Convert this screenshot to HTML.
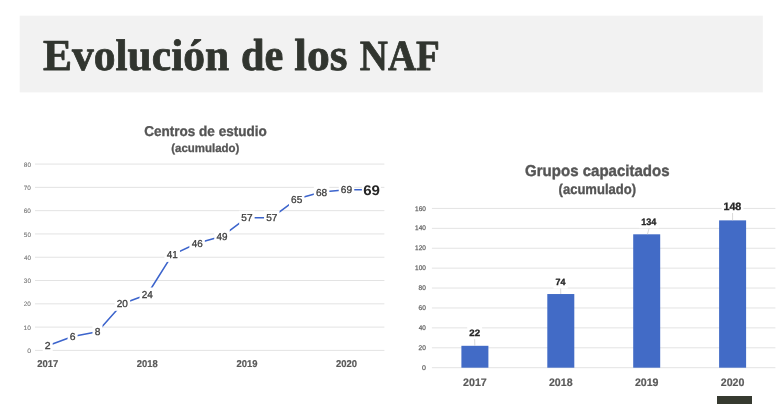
<!DOCTYPE html><html><head><meta charset="utf-8"><style>
html,body{margin:0;padding:0;background:#fff;width:781px;height:414px;overflow:hidden}
svg{position:absolute;left:0;top:0;text-rendering:geometricPrecision;will-change:transform}
</style></head><body>
<svg width="781" height="414" viewBox="0 0 781 414">

<rect x="19.7" y="15.7" width="743.1" height="76.7" fill="#f2f2f2"/>
<text transform="translate(42.96,70.40) scale(0.9851,1)" font-family="'Liberation Serif', serif" font-weight="bold" font-size="44.200" fill="#31352f" stroke="#31352f" stroke-width="0.8" stroke-linejoin="round">Evolución</text>
<text transform="translate(240.89,70.40) scale(0.9423,1)" font-family="'Liberation Serif', serif" font-weight="bold" font-size="44.900" fill="#31352f" stroke="#31352f" stroke-width="0.8" stroke-linejoin="round">de</text>
<text transform="translate(294.31,70.40) scale(1.0154,1)" font-family="'Liberation Serif', serif" font-weight="bold" font-size="44.900" fill="#31352f" stroke="#31352f" stroke-width="0.8" stroke-linejoin="round">los</text>
<text transform="translate(359.86,70.40) scale(0.9041,1)" font-family="'Liberation Serif', serif" font-weight="bold" font-size="43.000" fill="#31352f" stroke="#31352f" stroke-width="0.8" stroke-linejoin="round">NAF</text>
<line x1="35" x2="384.4" y1="350.40" y2="350.40" stroke="#e3e3e3" stroke-width="1"/>
<text transform="translate(27.13,353.00) scale(1.0951,1)" font-family="'Liberation Sans', sans-serif" font-weight="normal" font-size="6.304" fill="#777777" stroke="#777777" stroke-width="0.1">0</text>
<line x1="35" x2="384.4" y1="327.11" y2="327.11" stroke="#e3e3e3" stroke-width="1"/>
<text transform="translate(23.60,329.71) scale(1.0501,1)" font-family="'Liberation Sans', sans-serif" font-weight="normal" font-size="6.304" fill="#777777" stroke="#777777" stroke-width="0.1">10</text>
<line x1="35" x2="384.4" y1="303.82" y2="303.82" stroke="#e3e3e3" stroke-width="1"/>
<text transform="translate(23.78,306.42) scale(1.0235,1)" font-family="'Liberation Sans', sans-serif" font-weight="normal" font-size="6.304" fill="#777777" stroke="#777777" stroke-width="0.1">20</text>
<line x1="35" x2="384.4" y1="280.53" y2="280.53" stroke="#e3e3e3" stroke-width="1"/>
<text transform="translate(23.86,283.13) scale(1.0114,1)" font-family="'Liberation Sans', sans-serif" font-weight="normal" font-size="6.304" fill="#777777" stroke="#777777" stroke-width="0.1">30</text>
<line x1="35" x2="384.4" y1="257.24" y2="257.24" stroke="#e3e3e3" stroke-width="1"/>
<text transform="translate(23.96,259.84) scale(0.9969,1)" font-family="'Liberation Sans', sans-serif" font-weight="normal" font-size="6.304" fill="#777777" stroke="#777777" stroke-width="0.1">40</text>
<line x1="35" x2="384.4" y1="233.95" y2="233.95" stroke="#e3e3e3" stroke-width="1"/>
<text transform="translate(23.84,236.55) scale(1.0134,1)" font-family="'Liberation Sans', sans-serif" font-weight="normal" font-size="6.304" fill="#777777" stroke="#777777" stroke-width="0.1">50</text>
<line x1="35" x2="384.4" y1="210.66" y2="210.66" stroke="#e3e3e3" stroke-width="1"/>
<text transform="translate(23.77,213.26) scale(1.0240,1)" font-family="'Liberation Sans', sans-serif" font-weight="normal" font-size="6.304" fill="#777777" stroke="#777777" stroke-width="0.1">60</text>
<line x1="35" x2="384.4" y1="187.37" y2="187.37" stroke="#e3e3e3" stroke-width="1"/>
<text transform="translate(23.77,189.97) scale(1.0245,1)" font-family="'Liberation Sans', sans-serif" font-weight="normal" font-size="6.304" fill="#777777" stroke="#777777" stroke-width="0.1">70</text>
<line x1="35" x2="384.4" y1="164.08" y2="164.08" stroke="#e3e3e3" stroke-width="1"/>
<text transform="translate(23.82,166.68) scale(1.0167,1)" font-family="'Liberation Sans', sans-serif" font-weight="normal" font-size="6.304" fill="#777777" stroke="#777777" stroke-width="0.1">80</text>
<text transform="translate(144.24,136.10) scale(0.9502,1)" font-family="'Liberation Sans', sans-serif" font-weight="bold" font-size="14.244" fill="#555555" stroke="#555555" stroke-width="0.35">Centros de estudio</text>
<text transform="translate(171.23,151.70) scale(0.9714,1)" font-family="'Liberation Sans', sans-serif" font-weight="bold" font-size="11.800" fill="#555555" stroke="#555555" stroke-width="0.3">(acumulado)</text>
<text transform="translate(37.22,366.75) scale(0.9569,1)" font-family="'Liberation Sans', sans-serif" font-weight="bold" font-size="9.885" fill="#595959" stroke="#595959" stroke-width="0.2">2017</text>
<text transform="translate(136.82,366.75) scale(0.9511,1)" font-family="'Liberation Sans', sans-serif" font-weight="bold" font-size="9.885" fill="#595959" stroke="#595959" stroke-width="0.2">2018</text>
<text transform="translate(236.42,366.75) scale(0.9539,1)" font-family="'Liberation Sans', sans-serif" font-weight="bold" font-size="9.885" fill="#595959" stroke="#595959" stroke-width="0.2">2019</text>
<text transform="translate(336.02,366.75) scale(0.9556,1)" font-family="'Liberation Sans', sans-serif" font-weight="bold" font-size="9.885" fill="#595959" stroke="#595959" stroke-width="0.2">2020</text>
<polyline points="47.70,345.74 72.60,336.43 97.50,331.77 122.40,303.82 147.30,294.50 172.20,254.91 197.10,243.27 222.00,236.28 246.90,217.65 271.80,217.65 296.70,199.01 321.60,192.03 346.50,189.70 371.40,189.70" fill="none" stroke="#3c64cc" stroke-width="1.55" stroke-linejoin="round"/>
<rect x="42.70" y="338.74" width="10.00" height="14" fill="#fff"/>
<text transform="translate(44.77,349.24) scale(1.0506,1)" font-family="'Liberation Sans', sans-serif" font-weight="normal" font-size="10.029" fill="#404040" stroke="#404040" stroke-width="0.3">2</text>
<rect x="67.60" y="329.43" width="10.00" height="14" fill="#fff"/>
<text transform="translate(69.67,339.93) scale(1.0373,1)" font-family="'Liberation Sans', sans-serif" font-weight="normal" font-size="10.029" fill="#404040" stroke="#404040" stroke-width="0.3">6</text>
<rect x="92.50" y="324.77" width="10.00" height="14" fill="#fff"/>
<text transform="translate(94.66,335.27) scale(1.0200,1)" font-family="'Liberation Sans', sans-serif" font-weight="normal" font-size="10.029" fill="#404040" stroke="#404040" stroke-width="0.3">8</text>
<rect x="114.65" y="296.82" width="15.50" height="14" fill="#fff"/>
<text transform="translate(116.74,307.32) scale(1.0040,1)" font-family="'Liberation Sans', sans-serif" font-weight="normal" font-size="10.029" fill="#404040" stroke="#404040" stroke-width="0.3">20</text>
<rect x="139.55" y="287.50" width="15.50" height="14" fill="#fff"/>
<text transform="translate(141.65,298.00) scale(0.9945,1)" font-family="'Liberation Sans', sans-serif" font-weight="normal" font-size="10.029" fill="#404040" stroke="#404040" stroke-width="0.3">24</text>
<rect x="164.45" y="247.91" width="15.50" height="14" fill="#fff"/>
<text transform="translate(166.82,258.41) scale(0.9871,1)" font-family="'Liberation Sans', sans-serif" font-weight="normal" font-size="10.029" fill="#404040" stroke="#404040" stroke-width="0.3">41</text>
<rect x="189.35" y="236.27" width="15.50" height="14" fill="#fff"/>
<text transform="translate(191.72,246.77) scale(0.9824,1)" font-family="'Liberation Sans', sans-serif" font-weight="normal" font-size="10.029" fill="#404040" stroke="#404040" stroke-width="0.3">46</text>
<rect x="214.25" y="229.28" width="15.50" height="14" fill="#fff"/>
<text transform="translate(216.62,239.78) scale(0.9857,1)" font-family="'Liberation Sans', sans-serif" font-weight="normal" font-size="10.029" fill="#404040" stroke="#404040" stroke-width="0.3">49</text>
<rect x="239.15" y="210.65" width="15.50" height="14" fill="#fff"/>
<text transform="translate(241.35,221.15) scale(1.0050,1)" font-family="'Liberation Sans', sans-serif" font-weight="normal" font-size="10.029" fill="#404040" stroke="#404040" stroke-width="0.3">57</text>
<rect x="264.05" y="210.65" width="15.50" height="14" fill="#fff"/>
<text transform="translate(266.25,221.15) scale(1.0050,1)" font-family="'Liberation Sans', sans-serif" font-weight="normal" font-size="10.029" fill="#404040" stroke="#404040" stroke-width="0.3">57</text>
<rect x="288.95" y="192.01" width="15.50" height="14" fill="#fff"/>
<text transform="translate(291.04,202.51) scale(1.0074,1)" font-family="'Liberation Sans', sans-serif" font-weight="normal" font-size="10.029" fill="#404040" stroke="#404040" stroke-width="0.3">65</text>
<rect x="313.85" y="185.03" width="15.50" height="14" fill="#fff"/>
<text transform="translate(315.94,195.53) scale(1.0088,1)" font-family="'Liberation Sans', sans-serif" font-weight="normal" font-size="10.029" fill="#404040" stroke="#404040" stroke-width="0.3">68</text>
<rect x="338.75" y="182.70" width="15.50" height="14" fill="#fff"/>
<text transform="translate(340.83,193.20) scale(1.0127,1)" font-family="'Liberation Sans', sans-serif" font-weight="normal" font-size="10.029" fill="#404040" stroke="#404040" stroke-width="0.3">69</text>
<rect x="361.90" y="182.20" width="19" height="15" fill="#fff"/>
<text transform="translate(363.20,195.15) scale(1.0878,1)" font-family="'Liberation Sans', sans-serif" font-weight="bold" font-size="13.897" fill="#262626" >69</text>
<line x1="431.9" x2="775.4" y1="367.70" y2="367.70" stroke="#e3e3e3" stroke-width="1"/>
<text transform="translate(421.98,369.85) scale(1.0408,1)" font-family="'Liberation Sans', sans-serif" font-weight="normal" font-size="6.734" fill="#666666" stroke="#666666" stroke-width="0.25">0</text>
<line x1="431.9" x2="775.4" y1="347.79" y2="347.79" stroke="#e3e3e3" stroke-width="1"/>
<text transform="translate(418.57,349.94) scale(0.9727,1)" font-family="'Liberation Sans', sans-serif" font-weight="normal" font-size="6.734" fill="#666666" stroke="#666666" stroke-width="0.25">20</text>
<line x1="431.9" x2="775.4" y1="327.88" y2="327.88" stroke="#e3e3e3" stroke-width="1"/>
<text transform="translate(418.75,330.03) scale(0.9474,1)" font-family="'Liberation Sans', sans-serif" font-weight="normal" font-size="6.734" fill="#666666" stroke="#666666" stroke-width="0.25">40</text>
<line x1="431.9" x2="775.4" y1="307.97" y2="307.97" stroke="#e3e3e3" stroke-width="1"/>
<text transform="translate(418.57,310.12) scale(0.9732,1)" font-family="'Liberation Sans', sans-serif" font-weight="normal" font-size="6.734" fill="#666666" stroke="#666666" stroke-width="0.25">60</text>
<line x1="431.9" x2="775.4" y1="288.06" y2="288.06" stroke="#e3e3e3" stroke-width="1"/>
<text transform="translate(418.62,290.21) scale(0.9662,1)" font-family="'Liberation Sans', sans-serif" font-weight="normal" font-size="6.734" fill="#666666" stroke="#666666" stroke-width="0.25">80</text>
<line x1="431.9" x2="775.4" y1="268.15" y2="268.15" stroke="#e3e3e3" stroke-width="1"/>
<text transform="translate(415.06,270.30) scale(0.9609,1)" font-family="'Liberation Sans', sans-serif" font-weight="normal" font-size="6.734" fill="#666666" stroke="#666666" stroke-width="0.25">100</text>
<line x1="431.9" x2="775.4" y1="248.24" y2="248.24" stroke="#e3e3e3" stroke-width="1"/>
<text transform="translate(415.06,250.39) scale(0.9609,1)" font-family="'Liberation Sans', sans-serif" font-weight="normal" font-size="6.734" fill="#666666" stroke="#666666" stroke-width="0.25">120</text>
<line x1="431.9" x2="775.4" y1="228.33" y2="228.33" stroke="#e3e3e3" stroke-width="1"/>
<text transform="translate(415.06,230.48) scale(0.9609,1)" font-family="'Liberation Sans', sans-serif" font-weight="normal" font-size="6.734" fill="#666666" stroke="#666666" stroke-width="0.25">140</text>
<line x1="431.9" x2="775.4" y1="208.42" y2="208.42" stroke="#e3e3e3" stroke-width="1"/>
<text transform="translate(415.06,210.57) scale(0.9609,1)" font-family="'Liberation Sans', sans-serif" font-weight="normal" font-size="6.734" fill="#666666" stroke="#666666" stroke-width="0.25">160</text>
<text transform="translate(525.08,176.20) scale(0.9577,1)" font-family="'Liberation Sans', sans-serif" font-weight="bold" font-size="15.698" fill="#555555" stroke="#555555" stroke-width="0.4">Grupos capacitados</text>
<text transform="translate(558.55,194.40) scale(0.9116,1)" font-family="'Liberation Sans', sans-serif" font-weight="bold" font-size="14.300" fill="#555555" stroke="#555555" stroke-width="0.35">(acumulado)</text>
<rect x="461.40" y="345.80" width="27" height="21.90" fill="#426bc6"/>
<text transform="translate(463.08,386.00) scale(0.9801,1)" font-family="'Liberation Sans', sans-serif" font-weight="bold" font-size="10.888" fill="#595959" stroke="#595959" stroke-width="0.2">2017</text>
<rect x="467.20" y="326.76" width="14.90" height="12.44" fill="#fff"/>
<line x1="474.65" x2="474.82" y1="339.20" y2="345.80" stroke="#c8c8c8" stroke-width="0.7"/>
<text transform="translate(469.26,335.80) scale(1.0550,1)" font-family="'Liberation Sans', sans-serif" font-weight="bold" font-size="9.226" fill="#262626" stroke="#262626" stroke-width="0.3">22</text>
<rect x="547.30" y="294.03" width="27" height="73.67" fill="#426bc6"/>
<text transform="translate(548.98,386.00) scale(0.9741,1)" font-family="'Liberation Sans', sans-serif" font-weight="bold" font-size="10.888" fill="#595959" stroke="#595959" stroke-width="0.2">2018</text>
<rect x="553.50" y="276.25" width="14.30" height="12.25" fill="#fff"/>
<line x1="560.65" x2="560.75" y1="288.50" y2="294.03" stroke="#c8c8c8" stroke-width="0.7"/>
<text transform="translate(555.52,285.10) scale(0.9972,1)" font-family="'Liberation Sans', sans-serif" font-weight="bold" font-size="8.954" fill="#262626" stroke="#262626" stroke-width="0.3">74</text>
<rect x="633.20" y="234.30" width="27" height="133.40" fill="#426bc6"/>
<text transform="translate(634.88,386.00) scale(0.9769,1)" font-family="'Liberation Sans', sans-serif" font-weight="bold" font-size="10.888" fill="#595959" stroke="#595959" stroke-width="0.2">2019</text>
<rect x="639.40" y="215.80" width="19.40" height="12.50" fill="#fff"/>
<line x1="649.10" x2="647.42" y1="228.30" y2="234.30" stroke="#c8c8c8" stroke-width="0.7"/>
<text transform="translate(641.23,224.90) scale(0.9798,1)" font-family="'Liberation Sans', sans-serif" font-weight="bold" font-size="9.312" fill="#262626" stroke="#262626" stroke-width="0.3">134</text>
<rect x="719.10" y="220.37" width="27" height="147.33" fill="#426bc6"/>
<text transform="translate(720.78,386.00) scale(0.9787,1)" font-family="'Liberation Sans', sans-serif" font-weight="bold" font-size="10.888" fill="#595959" stroke="#595959" stroke-width="0.2">2020</text>
<rect x="721.70" y="199.60" width="21.70" height="13.40" fill="#fff"/>
<line x1="732.55" x2="732.59" y1="213.00" y2="220.37" stroke="#c8c8c8" stroke-width="0.7"/>
<text transform="translate(723.42,209.60) scale(1.0123,1)" font-family="'Liberation Sans', sans-serif" font-weight="bold" font-size="10.602" fill="#262626" stroke="#262626" stroke-width="0.3">148</text>
</svg>
<div style="position:absolute;left:717px;top:395.5px;width:35px;height:8.5px;background:#363a30"></div>
</body></html>
